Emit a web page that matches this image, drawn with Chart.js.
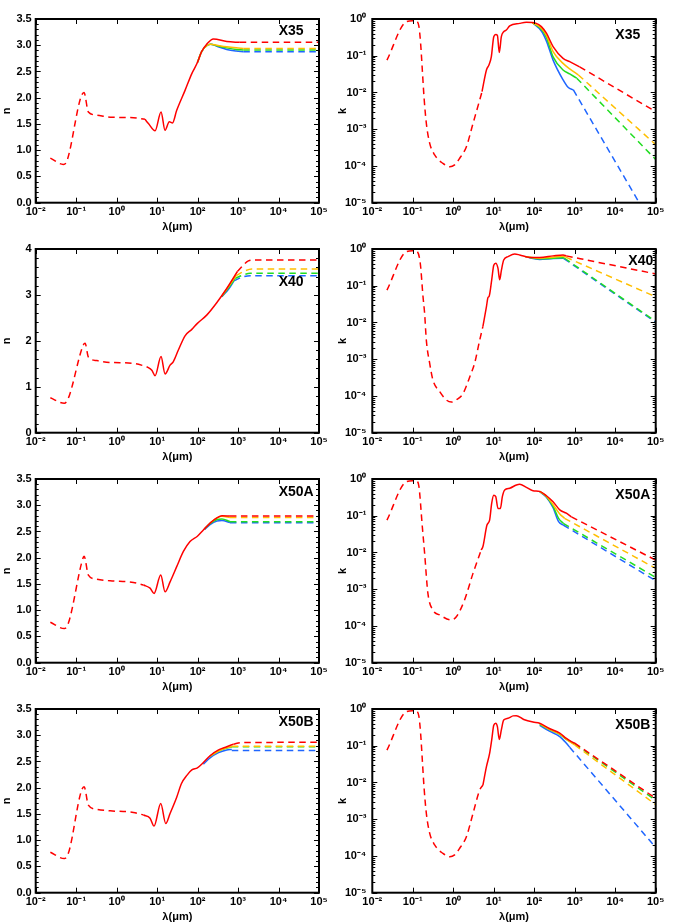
<!DOCTYPE html>
<html>
<head>
<meta charset="utf-8">
<script src="https://cdn.jsdelivr.net/npm/chart.js@4.4.0/dist/chart.umd.min.js"></script>
<style>
html, body { margin: 0; background: #fff; overflow: hidden; width: 673px; height: 922px; }
canvas { position: absolute; }
</style>
</head>
<body>
<canvas id="p0" width="336" height="236" style="left:0;top:0"></canvas>
<canvas id="p1" width="337" height="236" style="left:336px;top:0"></canvas>
<canvas id="p2" width="336" height="236" style="left:0;top:230px"></canvas>
<canvas id="p3" width="337" height="236" style="left:336px;top:230px"></canvas>
<canvas id="p4" width="336" height="236" style="left:0;top:460px"></canvas>
<canvas id="p5" width="337" height="236" style="left:336px;top:460px"></canvas>
<canvas id="p6" width="336" height="236" style="left:0;top:690px"></canvas>
<canvas id="p7" width="337" height="236" style="left:336px;top:690px"></canvas>
<script>
// tick values
const xTickVals = [1e-2, 1e-1, 1e0, 1e1, 1e2, 1e3, 1e4, 1e5];
const kTickVals = [1e-5, 1e-4, 1e-3, 1e-2, 1e-1, 1e0];
const nTickVals = [0, 0.5, 1, 1.5, 2, 2.5, 3, 3.5];
const nTickVals40 = [0, 1, 2, 3, 4];

// [wavelength (um), value]; uv = dashed short-wave part, red/org/grn/blu = measured, *X = extrapolation
// X35
const n35_uv = [[0.023,0.85],[0.048,0.73],[0.058,0.78],[0.156,2.10],[0.2,1.73],[0.32,1.67],[0.69,1.63],[2.6,1.62],[5,1.59]];
const n35_red = [[5,1.59],[6.1,1.51],[8.9,1.37],[12.5,1.73],[15.7,1.38],[20,1.54],[24,1.52],[30.5,1.76],[49,2.14],[72,2.46],[99,2.67],[126,2.88],[168,3.02],[246,3.12],[525,3.07],[1100,3.056]];
const n35_org = [[99,2.67],[126,2.88],[168,2.99],[211,3.02],[300,3.0],[525,2.97],[900,2.95],[1350,2.94]];
const n35_grn = [[99,2.67],[126,2.88],[168,2.99],[211,3.02],[300,2.99],[525,2.95],[900,2.92],[1350,2.91]];
const n35_blu = [[99,2.67],[126,2.88],[168,2.99],[211,3.02],[300,2.98],[525,2.92],[900,2.89],[1350,2.877]];
const n35_redX = [[1100,3.056],[1e5,3.056]];
const n35_orgX = [[1350,2.94],[1e5,2.94]];
const n35_grnX = [[1350,2.91],[1e5,2.91]];
const n35_bluX = [[1350,2.877],[1e5,2.877]];

const k35_uv = [[0.023,0.076],[0.069,0.845],[0.1,0.9],[0.125,0.87],[0.142,0.62],[0.156,0.22],[0.172,0.041],[0.189,0.0078],[0.216,0.00145],[0.261,4.2e-4],[0.347,2.0e-4],[0.557,1.17e-4],[0.815,9.5e-5],[1.08,1.07e-4],[1.44,1.62e-4],[2.1,3.3e-4],[3.08,1.45e-3],[4.49,6.2e-3],[5.13,0.0105]];
const k35_red = [[5.13,0.0105],[6.6,0.041],[7.6,0.056],[8.7,0.093],[10,0.33],[11.2,0.38],[12.3,0.36],[13.7,0.123],[15.4,0.33],[17.6,0.45],[20.4,0.5],[24.8,0.65],[43.7,0.76],[64,0.81],[112,0.76],[150,0.62],[200,0.41],[292,0.178],[515,0.085],[751,0.069],[1320,0.05]];
const k35_org = [[90,0.79],[150,0.56],[200,0.355],[292,0.129],[515,0.062],[751,0.044],[1230,0.03]];
const k35_grn = [[90,0.79],[150,0.525],[200,0.316],[292,0.093],[515,0.041],[751,0.032],[1120,0.0245]];
const k35_blu = [[90,0.79],[150,0.47],[200,0.25],[292,0.076],[515,0.022],[684,0.0138],[927,0.0117]];
const k35_redX = [[1320,0.05],[1e5,0.003]];
const k35_orgX = [[1230,0.03],[1e5,3.8e-4]];
const k35_grnX = [[1120,0.0245],[1e5,1.5e-4]];
const k35_bluX = [[927,0.0117],[1e5,1.7e-6]];

// X40
const n40_uv = [[0.023,0.76],[0.051,0.64],[0.064,0.75],[0.15,1.91],[0.166,1.95],[0.2,1.65],[0.32,1.57],[0.69,1.53],[2.6,1.51],[5.5,1.44]];
const n40_red = [[5.5,1.44],[7.4,1.36],[8.9,1.24],[12.5,1.66],[15.7,1.28],[20.9,1.47],[25.2,1.55],[33.5,1.8],[49,2.11],[72,2.25],[99,2.38],[168,2.56],[297,2.83],[525,3.14],[963,3.51]];
const n40_org = [[400,2.98],[600,3.2],[900,3.42]];
const n40_grn = [[400,2.97],[600,3.17],[850,3.36]];
const n40_blu = [[400,2.96],[600,3.14],[800,3.31]];
const n40_redX = [[963,3.51],[1800,3.74],[2500,3.76],[1e5,3.76]];
const n40_orgX = [[900,3.42],[1300,3.5],[2200,3.565],[1e5,3.565]];
const n40_grnX = [[850,3.36],[1300,3.43],[2000,3.47],[1e5,3.47]];
const n40_bluX = [[800,3.31],[1200,3.38],[2000,3.42],[1e5,3.42]];

const k40_uv = [[0.023,0.076],[0.069,0.845],[0.1,0.9],[0.125,0.87],[0.153,0.41],[0.179,0.05],[0.196,0.0178],[0.216,0.0033],[0.261,7.8e-4],[0.315,2.7e-4],[0.46,1.32e-4],[0.67,7.8e-5],[0.9,6.8e-5],[1.19,7.8e-5],[1.75,1.17e-4],[2.55,3.3e-4],[3.37,7.8e-4],[4.49,0.0033],[5.4,0.0078]];
const k40_red = [[5.4,0.0078],[6.6,0.027],[7.2,0.048],[7.7,0.052],[8.9,0.145],[10,0.36],[11.2,0.41],[12.7,0.3],[14,0.145],[15.5,0.27],[17.6,0.5],[22.5,0.62],[32.9,0.73],[43.7,0.69],[77,0.59],[136,0.59],[292,0.65],[515,0.69],[617,0.65]];
const k40_org = [[60,0.62],[136,0.56],[292,0.6],[515,0.63],[600,0.6]];
const k40_grn = [[60,0.62],[136,0.54],[292,0.56],[515,0.58],[560,0.56]];
const k40_blu = [[60,0.62],[136,0.52],[292,0.55],[515,0.56],[540,0.55]];
const k40_redX = [[617,0.65],[1e5,0.21]];
const k40_orgX = [[600,0.6],[1e5,0.05]];
const k40_grnX = [[560,0.56],[1e5,0.0107]];
const k40_bluX = [[540,0.55],[1e5,0.0102]];

// X50A
const n50a_uv = [[0.023,0.77],[0.051,0.65],[0.064,0.75],[0.15,2.01],[0.157,2.03],[0.2,1.67],[0.32,1.59],[0.69,1.56],[2.6,1.53],[4.6,1.48]];
const n50a_red = [[4.6,1.48],[6.7,1.42],[8.4,1.32],[12.3,1.67],[15.7,1.35],[20.9,1.54],[30.5,1.83],[44.6,2.12],[65,2.31],[99,2.41],[139,2.53],[203,2.66],[300,2.76],[400,2.8],[630,2.795]];
const n50a_org = [[203,2.66],[300,2.76],[400,2.79],[630,2.765]];
const n50a_grn = [[150,2.55],[203,2.65],[300,2.73],[400,2.74],[630,2.69]];
const n50a_blu = [[150,2.54],[203,2.63],[300,2.7],[400,2.71],[630,2.67]];
const n50a_redX = [[630,2.795],[1e5,2.795]];
const n50a_orgX = [[630,2.765],[1e5,2.765]];
const n50a_grnX = [[630,2.685],[1e5,2.685]];
const n50a_bluX = [[630,2.668],[1e5,2.668]];

const k50a_uv = [[0.023,0.076],[0.069,0.845],[0.1,0.9],[0.125,0.87],[0.142,0.62],[0.172,0.05],[0.196,0.0095],[0.236,7.8e-4],[0.315,2.7e-4],[0.46,2.0e-4],[0.9,1.45e-4],[1.19,1.78e-4],[1.9,5.1e-4],[3.07,2.7e-3],[4.9,0.0117]];
const k50a_red = [[4.9,0.0117],[5.4,0.0145],[6.8,0.056],[7.9,0.076],[8.9,0.22],[10,0.36],[11.2,0.33],[12.7,0.158],[14.6,0.158],[16.3,0.33],[18.6,0.5],[24.8,0.56],[36.3,0.69],[43.7,0.72],[64,0.59],[93,0.48],[136,0.46],[200,0.35],[292,0.24],[427,0.145],[622,0.117],[828,0.093]];
const k50a_org = [[136,0.46],[200,0.34],[292,0.2],[427,0.112],[560,0.085]];
const k50a_grn = [[136,0.46],[200,0.33],[292,0.18],[400,0.085],[520,0.062]];
const k50a_blu = [[136,0.45],[200,0.32],[292,0.166],[400,0.069],[520,0.056]];
const k50a_redX = [[828,0.093],[1e5,0.0062]];
const k50a_orgX = [[560,0.085],[1e5,0.0037]];
const k50a_grnX = [[520,0.062],[1e5,0.0021]];
const k50a_bluX = [[520,0.056],[1e5,0.0017]];

// X50B
const n50b_uv = [[0.023,0.77],[0.051,0.65],[0.064,0.75],[0.157,2.02],[0.2,1.67],[0.32,1.59],[0.69,1.56],[2.6,1.53],[4.6,1.48]];
const n50b_red = [[4.6,1.48],[6.7,1.42],[8.4,1.27],[12.3,1.7],[16.3,1.32],[20.9,1.51],[30.5,1.82],[40,2.08],[55,2.24],[72,2.34],[99,2.38],[139,2.48],[203,2.61],[330,2.72],[525,2.78],[768,2.83]];
const n50b_org = [[203,2.6],[330,2.7],[525,2.76],[700,2.78]];
const n50b_grn = [[203,2.6],[330,2.7],[525,2.755],[700,2.775]];
const n50b_blu = [[139,2.45],[203,2.57],[330,2.67],[525,2.72],[700,2.73]];
const n50b_redX = [[768,2.83],[1200,2.86],[1e5,2.865]];
const n50b_orgX = [[700,2.79],[1e5,2.79]];
const n50b_grnX = [[700,2.78],[1e5,2.78]];
const n50b_bluX = [[700,2.71],[1e5,2.71]];

const k50b_uv = [[0.023,0.076],[0.069,0.845],[0.1,0.9],[0.125,0.87],[0.142,0.62],[0.156,0.22],[0.172,0.041],[0.189,0.0078],[0.216,0.00145],[0.261,4.2e-4],[0.347,2.0e-4],[0.557,1.17e-4],[0.815,9.5e-5],[1.08,1.07e-4],[1.44,1.62e-4],[2.1,3.3e-4],[3.08,1.45e-3],[4.49,6.2e-3],[5.4,0.0085]];
const k50b_red = [[5.4,0.0085],[6.6,0.027],[7.9,0.062],[8.9,0.145],[10,0.36],[11.2,0.41],[12.3,0.33],[13.7,0.148],[15.4,0.27],[17.6,0.5],[22.5,0.56],[30,0.65],[36,0.66],[55,0.52],[93,0.44],[136,0.41],[237,0.295],[427,0.22],[622,0.158],[828,0.129],[1000,0.117]];
const k50b_org = [[136,0.4],[237,0.28],[427,0.21],[622,0.151],[1000,0.105]];
const k50b_grn = [[136,0.38],[237,0.275],[427,0.204],[622,0.148],[1000,0.112]];
const k50b_blu = [[136,0.36],[237,0.25],[427,0.178],[622,0.117],[750,0.091]];
const k50b_redX = [[1000,0.117],[1e5,0.0037]];
const k50b_orgX = [[1000,0.105],[1e5,0.0025]];
const k50b_grnX = [[1000,0.112],[1e5,0.0033]];
const k50b_bluX = [[750,0.091],[1e5,1.7e-4]];

const C = { red: '#ff0000', org: '#ffbf00', grn: '#22dd22', blu: '#1f66ff' };
const SUP = { '-': '\u207B', '0': '\u2070', '1': '\u00B9', '2': '\u00B2', '3': '\u00B3', '4': '\u2074', '5': '\u2075', '6': '\u2076', '7': '\u2077', '8': '\u2078', '9': '\u2079' };
const pow10 = v => '10' + String(Math.round(Math.log10(v))).split('').map(c => SUP[c]).join('');

const FONT = 'Liberation Sans';

function line(d, color, dashed) {
    return {
        data: d.map(([x, y]) => ({ x, y })),
        borderColor: color,
        borderWidth: 1.5,
        borderDash: dashed ? [6.5, 4.5] : [],
        pointRadius: 0,
        fill: false,
        cubicInterpolationMode: 'monotone'
    };
}

function makeSets(s) {
    const [uv, red, redX, org, orgX, grn, grnX, blu, bluX] = s;
    // first dataset is drawn on top
    return [
        line(uv, C.red, true), line(red, C.red, false), line(redX, C.red, true),
        line(org, C.org, false), line(orgX, C.org, true),
        line(grn, C.grn, false), line(grnX, C.grn, true),
        line(blu, C.blu, false), line(bluX, C.blu, true)
    ];
}

// box with inward ticks on all four sides + panel label
const frame = {
    id: 'frame',
    afterDraw(chart, args, o) {
        const { ctx, chartArea: a, scales: { x, y } } = chart;
        ctx.save();
        ctx.strokeStyle = '#000';
        ctx.lineWidth = 1;
        ctx.beginPath();
        xTickVals.forEach(v => {
            const p = Math.round(x.getPixelForValue(v)) + 0.5;
            ctx.moveTo(p, a.bottom); ctx.lineTo(p, a.bottom - 5);
            ctx.moveTo(p, a.top); ctx.lineTo(p, a.top + 5);
        });
        o.yTicks.forEach(([v, len]) => {
            const p = Math.round(y.getPixelForValue(v)) + 0.5;
            ctx.moveTo(a.left, p); ctx.lineTo(a.left + len, p);
            ctx.moveTo(a.right, p); ctx.lineTo(a.right - len, p);
        });
        ctx.stroke();
        ctx.lineWidth = 2;
        ctx.strokeRect(a.left, a.top, a.right - a.left, a.bottom - a.top);
        ctx.fillStyle = '#000';
        ctx.font = 'bold 14px "' + FONT + '"';
        ctx.textBaseline = 'middle';
        ctx.textAlign = 'left';
        ctx.fillText(o.text, a.left + o.lx, a.top + o.ly);
        ctx.restore();
    }
};

const panels = [
    { id: 'p0', kind: 'n', max: 3.5, ticks: nTickVals, minor: 0.1, label: 'X35', lx: 243, ly: 12,
      sets: [n35_uv, n35_red, n35_redX, n35_org, n35_orgX, n35_grn, n35_grnX, n35_blu, n35_bluX] },
    { id: 'p1', kind: 'k', label: 'X35', lx: 243, ly: 16,
      sets: [k35_uv, k35_red, k35_redX, k35_org, k35_orgX, k35_grn, k35_grnX, k35_blu, k35_bluX] },
    { id: 'p2', kind: 'n', max: 4, ticks: nTickVals40, minor: 0.2, label: 'X40', lx: 243, ly: 33,
      sets: [n40_uv, n40_red, n40_redX, n40_org, n40_orgX, n40_grn, n40_grnX, n40_blu, n40_bluX] },
    { id: 'p3', kind: 'k', label: 'X40', lx: 256, ly: 12,
      sets: [k40_uv, k40_red, k40_redX, k40_org, k40_orgX, k40_grn, k40_grnX, k40_blu, k40_bluX] },
    { id: 'p4', kind: 'n', max: 3.5, ticks: nTickVals, minor: 0.1, label: 'X50A', lx: 243, ly: 13,
      sets: [n50a_uv, n50a_red, n50a_redX, n50a_org, n50a_orgX, n50a_grn, n50a_grnX, n50a_blu, n50a_bluX] },
    { id: 'p5', kind: 'k', label: 'X50A', lx: 243, ly: 16,
      sets: [k50a_uv, k50a_red, k50a_redX, k50a_org, k50a_orgX, k50a_grn, k50a_grnX, k50a_blu, k50a_bluX] },
    { id: 'p6', kind: 'n', max: 3.5, ticks: nTickVals, minor: 0.1, label: 'X50B', lx: 243, ly: 13,
      sets: [n50b_uv, n50b_red, n50b_redX, n50b_org, n50b_orgX, n50b_grn, n50b_grnX, n50b_blu, n50b_bluX] },
    { id: 'p7', kind: 'k', label: 'X50B', lx: 243, ly: 16,
      sets: [k50b_uv, k50b_red, k50b_redX, k50b_org, k50b_orgX, k50b_grn, k50b_grnX, k50b_blu, k50b_bluX] }
];

const tickFont = { family: FONT, size: 11, weight: 'bold' };

panels.forEach((p, i) => {
    const right = i % 2 === 1;
    let yScale, yTicks = [];
    if (p.kind === 'k') {
        kTickVals.forEach(v => {
            yTicks.push([v, 5]);
            if (v < 1) for (let m = 2; m <= 9; m++) yTicks.push([m * v, 3]);
        });
        yScale = {
            type: 'logarithmic', min: 1e-5, max: 1,
            afterBuildTicks: s => { s.ticks = kTickVals.map(v => ({ value: v })); },
            ticks: { callback: v => pow10(v), padding: 6, font: tickFont, color: '#000', autoSkip: false },
            title: { display: true, text: 'k', font: { family: FONT, size: 11, weight: 'bold' }, color: '#000', padding: 0 }
        };
    } else {
        const n = Math.round(p.max / p.minor);
        for (let j = 0; j <= n; j++) {
            const v = +(j * p.minor).toFixed(2);
            yTicks.push([v, p.ticks.includes(v) ? 5 : 3]);
        }
        yScale = {
            type: 'linear', min: 0, max: p.max,
            afterBuildTicks: s => { s.ticks = p.ticks.map(v => ({ value: v })); },
            ticks: { callback: v => p.max === 4 ? String(v) : v.toFixed(1), padding: 4, font: tickFont, color: '#000', autoSkip: false },
            title: { display: true, text: 'n', font: { family: FONT, size: 11, weight: 'bold' }, color: '#000', padding: 0 }
        };
    }
    yScale.grid = { display: false, drawTicks: false };
    yScale.border = { display: false };
    yScale.afterFit = s => { s.width = right ? 36.3 : 35.7; };

    new Chart(document.getElementById(p.id), {
        type: 'line',
        data: { datasets: makeSets(p.sets) },
        options: {
            responsive: false,
            animation: false,
            devicePixelRatio: 1,
            layout: { padding: { top: 19, right: right ? 17.3 : 17, left: 0, bottom: 0 } },
            plugins: {
                legend: { display: false },
                tooltip: { enabled: false },
                frame: { text: p.label, lx: p.lx, ly: p.ly, yTicks }
            },
            scales: {
                x: {
                    type: 'logarithmic', min: 1e-2, max: 1e5,
                    afterBuildTicks: s => { s.ticks = xTickVals.map(v => ({ value: v })); },
                    afterFit: s => { s.height = 33.3; },
                    grid: { display: false, drawTicks: false },
                    border: { display: false },
                    ticks: { callback: v => pow10(v), padding: 3, maxRotation: 0, autoSkip: false, font: tickFont, color: '#000' },
                    title: { display: true, text: '\u03BB(\u03BCm)', font: { family: FONT, size: 11, weight: 'bold' }, color: '#000', padding: { top: 0, bottom: 2 } }
                },
                y: yScale
            }
        },
        plugins: [frame]
    });
});
</script>
</body>
</html>
